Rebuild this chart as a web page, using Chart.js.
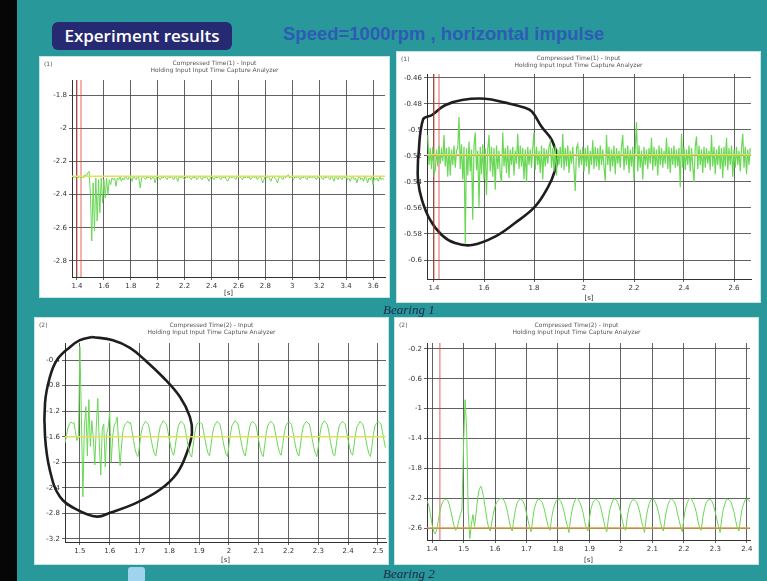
<!DOCTYPE html>
<html><head><meta charset="utf-8">
<script src="https://cdn.jsdelivr.net/npm/chart.js@4/dist/chart.umd.min.js"></script>
<style>
html,body{margin:0;padding:0;}
body{width:767px;height:581px;background:#28989b;position:relative;overflow:hidden;font-family:'DejaVu Sans',sans-serif;}
#strip{position:absolute;left:0;top:0;width:17px;height:581px;background:#060606;}
#hdr{position:absolute;left:52px;top:22px;width:180px;height:28px;background:#262a72;border-radius:6px;color:#fff;font:600 17px 'Open Sans',sans-serif;line-height:28px;text-align:center;}
#sub{position:absolute;left:283px;top:23px;color:#2d5cb4;font:bold 18.5px 'Liberation Sans',sans-serif;white-space:nowrap;}
#icon{position:absolute;left:128px;top:567px;width:17px;height:14px;background:#9fd3ee;border-radius:3px 3px 0 0;}
.panel{position:absolute;background:#fff;box-shadow:0 0 0 1px #c6e6e6;}
.panel canvas{position:absolute;left:0;top:0;}
.pt{position:absolute;left:0;right:0;text-align:center;font:6px 'DejaVu Sans',sans-serif;color:#555;white-space:nowrap;}
.pl{position:absolute;left:4px;top:3px;font:6px 'DejaVu Sans',sans-serif;color:#555;}
.brg{position:absolute;font:italic 13px 'Liberation Serif',serif;color:#1c2a48;}
</style></head>
<body>
<div id="strip"></div>
<div id="hdr">Experiment results</div>
<div id="sub">Speed=1000rpm , horizontal impulse</div>
<div id="icon"></div>

<div class="panel" style="left:40px;top:57px;width:349px;height:240px"><canvas id="c1" width="349" height="240"></canvas>
<div class="pl">(1)</div><div class="pt" style="top:2px">Compressed Time(1) - Input</div><div class="pt" style="top:9px">Holding  Input  Input  Time Capture  Analyzer</div></div>
<div class="panel" style="left:397px;top:52px;width:363px;height:250px"><canvas id="c2" width="363" height="250"></canvas>
<div class="pl">(1)</div><div class="pt" style="top:2px">Compressed Time(1) - Input</div><div class="pt" style="top:9px">Holding  Input  Input  Time Capture  Analyzer</div></div>
<div class="panel" style="left:35px;top:318px;width:353px;height:246px"><canvas id="c3" width="353" height="246"></canvas>
<div class="pl">(2)</div><div class="pt" style="top:3px">Compressed Time(2) - Input</div><div class="pt" style="top:10px">Holding  Input  Input  Time Capture  Analyzer</div></div>
<div class="panel" style="left:395px;top:318px;width:363px;height:246px"><canvas id="c4" width="363" height="246"></canvas>
<div class="pl">(2)</div><div class="pt" style="top:3px">Compressed Time(2) - Input</div><div class="pt" style="top:10px">Holding  Input  Input  Time Capture  Analyzer</div></div>

<div class="brg" style="left:383px;top:302px">Bearing 1</div>
<div class="brg" style="left:383px;top:566px">Bearing 2</div>

<script>
// ---------- Panel 1 (Bearing 1, channel 1) ----------
const p1Start = 1.37, p1Step = 0.01;
const p1Values = [
-2.30,-2.29,-2.30,-2.29,-2.30,-2.29,-2.30,-2.29,-2.30,-2.28,
-2.29,-2.27,-2.26,-2.40,-2.68,-2.33,-2.62,-2.30,-2.56,-2.31,
-2.51,-2.30,-2.45,-2.31,-2.42,-2.30,-2.40,-2.31,-2.34,-2.30,
-2.31,-2.30,-2.35,-2.30,-2.31,-2.29,-2.32,-2.30,-2.31,-2.29,
-2.30,-2.31,-2.29,-2.30,-2.32,-2.29,-2.30,-2.31,-2.29,-2.30,
-2.36,-2.30,-2.29,-2.30,-2.31,-2.29,-2.30,-2.29,-2.31,-2.30,
-2.29,-2.33,-2.30,-2.29,-2.30,-2.31,-2.29,-2.30,-2.29,-2.30,
-2.31,-2.29,-2.30,-2.29,-2.30,-2.31,-2.29,-2.30,-2.32,-2.29,
-2.30,-2.29,-2.30,-2.31,-2.29,-2.30,-2.29,-2.30,-2.31,-2.29,
-2.30,-2.29,-2.31,-2.30,-2.29,-2.30,-2.31,-2.29,-2.30,-2.29,
-2.30,-2.32,-2.30,-2.29,-2.30,-2.31,-2.29,-2.30,-2.29,-2.30,
-2.31,-2.29,-2.30,-2.29,-2.31,-2.32,-2.30,-2.29,-2.30,-2.29,
-2.30,-2.31,-2.29,-2.30,-2.29,-2.30,-2.31,-2.29,-2.30,-2.29,
-2.30,-2.29,-2.31,-2.30,-2.29,-2.30,-2.29,-2.31,-2.30,-2.29,
-2.30,-2.33,-2.31,-2.29,-2.30,-2.29,-2.30,-2.32,-2.30,-2.29,
-2.30,-2.31,-2.33,-2.30,-2.29,-2.30,-2.31,-2.29,-2.30,-2.29,
-2.28,-2.30,-2.29,-2.30,-2.31,-2.29,-2.30,-2.29,-2.30,-2.31,
-2.29,-2.30,-2.29,-2.30,-2.31,-2.29,-2.30,-2.29,-2.30,-2.29,
-2.30,-2.31,-2.29,-2.30,-2.29,-2.30,-2.31,-2.29,-2.30,-2.29,
-2.30,-2.31,-2.29,-2.30,-2.32,-2.29,-2.30,-2.31,-2.29,-2.30,
-2.31,-2.29,-2.30,-2.29,-2.31,-2.30,-2.32,-2.30,-2.29,-2.31,
-2.30,-2.33,-2.30,-2.29,-2.31,-2.30,-2.32,-2.29,-2.30,-2.33,
-2.30,-2.31,-2.29,-2.34,-2.30,-2.31,-2.30,-2.32,-2.29,-2.31,
-2.30,-2.31];
const p1XTicks = [1.4,1.6,1.8,2,2.2,2.4,2.6,2.8,3,3.2,3.4,3.6];
const p1XLabels = ['1.4','1.6','1.8','2','2.2','2.4','2.6','2.8','3','3.2','3.4','3.6'];
const p1YTicks = [-1.8,-2,-2.2,-2.4,-2.6,-2.8];
const p1YLabels = ['-1.8','-2','-2.2','-2.4','-2.6','-2.8'];
const p1Level = -2.29;
const p1Markers = [1.40,1.43];

// ---------- Panel 2 (Bearing 1, channel 2) ----------
const p2Start = 1.375, p2Step = 0.005;
const p2Values = [
-0.504,-0.527,-0.514,-0.530,-0.513,-0.534,-0.531,-0.515,-0.528,-0.512,-0.526,-0.516,-0.524,
-0.504,-0.528,-0.514,-0.536,-0.513,-0.535,-0.515,-0.527,-0.512,-0.529,-0.516,-0.514,
-0.490,-0.530,-0.511,-0.538,-0.513,-0.587,-0.514,-0.535,-0.509,-0.532,-0.515,-0.569,-0.512,
-0.502,-0.531,-0.516,-0.559,-0.513,-0.534,-0.511,-0.538,-0.514,-0.550,-0.515,
-0.504,-0.532,-0.513,-0.536,-0.514,-0.546,-0.512,-0.530,-0.516,-0.534,-0.540,
-0.502,-0.528,-0.514,-0.533,-0.512,-0.537,-0.515,-0.527,-0.513,-0.535,-0.516,-0.526,
-0.503,-0.530,-0.512,-0.528,-0.514,-0.538,-0.515,-0.540,-0.513,-0.527,-0.515,-0.529,-0.514,
-0.502,-0.531,-0.513,-0.527,-0.516,-0.533,-0.512,-0.538,-0.514,-0.528,-0.515,-0.526,-0.513,
-0.509,-0.529,-0.514,-0.532,-0.512,-0.535,-0.515,-0.527,-0.513,-0.529,
-0.503,-0.531,-0.514,-0.528,-0.512,-0.533,-0.516,-0.526,-0.513,-0.530,-0.547,-0.514,
-0.511,-0.529,-0.515,-0.527,-0.513,-0.532,-0.514,-0.528,-0.512,-0.534,-0.516,-0.527,
-0.508,-0.530,-0.513,-0.528,-0.514,-0.531,-0.512,-0.527,-0.515,-0.529,-0.539,
-0.504,-0.527,-0.513,-0.532,-0.515,-0.528,-0.512,-0.534,-0.514,-0.526,-0.516,-0.529,-0.513,
-0.504,-0.531,-0.514,-0.527,-0.512,-0.533,-0.515,-0.528,-0.513,-0.539,-0.514,
-0.494,-0.532,-0.512,-0.529,-0.516,-0.538,-0.513,-0.527,-0.515,-0.530,-0.514,-0.526,
-0.506,-0.531,-0.513,-0.528,-0.515,-0.535,-0.512,-0.527,-0.514,-0.529,-0.516,-0.526,
-0.506,-0.530,-0.513,-0.533,-0.514,-0.527,-0.512,-0.529,-0.515,-0.528,-0.514,-0.544,
-0.503,-0.529,-0.513,-0.531,-0.515,-0.527,-0.512,-0.532,-0.514,-0.528,-0.540,-0.513,
-0.505,-0.530,-0.512,-0.527,-0.515,-0.533,-0.513,-0.529,-0.514,-0.526,-0.516,-0.531,
-0.504,-0.528,-0.513,-0.534,-0.515,-0.527,-0.512,-0.530,-0.514,-0.537,-0.513,-0.528,
-0.506,-0.531,-0.514,-0.527,-0.512,-0.536,-0.515,-0.529,-0.513,-0.527,-0.516,-0.532,-0.514,
-0.503,-0.529,-0.513,-0.534,-0.515,-0.527,-0.514];
const p2XTicks = [1.4,1.6,1.8,2,2.2,2.4,2.6];
const p2XLabels = ['1.4','1.6','1.8','2','2.2','2.4','2.6'];
const p2YTicks = [-0.46,-0.48,-0.5,-0.52,-0.54,-0.56,-0.58,-0.6];
const p2YLabels = ['-0.46','-0.48','-0.5','-0.52','-0.54','-0.56','-0.58','-0.6'];
const p2Level = -0.519;
const p2Markers = [1.40,1.42];
const loop2X = [1.336,1.356,1.392,1.444,1.512,1.604,1.684,1.764,1.792,1.832,1.872,1.892,1.884,1.856,1.804,1.724,1.644,1.552,1.484,1.432,1.384,1.352,1.336,1.336];
const loop2Y = [-0.523,-0.492,-0.4885,-0.481,-0.477,-0.476,-0.479,-0.483,-0.486,-0.498,-0.508,-0.521,-0.531,-0.544,-0.559,-0.5715,-0.582,-0.5885,-0.587,-0.581,-0.569,-0.554,-0.5385,-0.523];

// ---------- Panel 3 (Bearing 2, channel 1) ----------
const p3Start = 1.45, p3Step = 0.005;
const p3Values = [
-1.70,-1.58,-1.46,-1.40,-1.37,-1.39,-1.38,-1.52,-1.66,-1.60,
-0.19,-1.30,-2.54,-1.45,-1.13,-1.90,-1.02,-1.75,-1.35,-1.62,
-2.04,-1.45,-1.00,-1.70,-2.20,-1.48,-1.40,-2.07,-1.55,-1.45,
-1.21,-2.00,-1.60,-1.42,-1.38,-1.29,-1.70,-2.05,-1.72,-1.50,
-1.42,-1.39,-1.36,-1.39,-1.38,-1.52,-1.66,-1.79,-1.88,-1.91,-1.74,-1.56,
-1.44,-1.40,-1.36,-1.38,-1.41,-1.53,-1.67,-1.78,-1.87,-1.90,-1.73,-1.55,
-1.43,-1.39,-1.35,-1.38,-1.40,-1.51,-1.64,-1.76,-1.85,-1.89,-1.75,-1.57,
-1.44,-1.38,-1.36,-1.39,-1.41,-1.53,-1.66,-1.78,-1.88,-1.92,-1.74,-1.56,
-1.43,-1.39,-1.37,-1.38,-1.40,-1.52,-1.65,-1.77,-1.86,-1.90,-1.73,-1.55,
-1.44,-1.40,-1.36,-1.38,-1.41,-1.52,-1.66,-1.78,-1.87,-1.91,-1.74,-1.56,
-1.43,-1.39,-1.35,-1.37,-1.40,-1.51,-1.65,-1.77,-1.86,-1.90,-1.75,-1.57,
-1.44,-1.38,-1.36,-1.39,-1.41,-1.53,-1.66,-1.78,-1.88,-1.91,-1.73,-1.55,
-1.43,-1.39,-1.36,-1.38,-1.40,-1.52,-1.64,-1.76,-1.85,-1.89,-1.74,-1.56,
-1.44,-1.40,-1.37,-1.38,-1.41,-1.53,-1.66,-1.78,-1.87,-1.90,-1.73,-1.55,
-1.43,-1.39,-1.36,-1.39,-1.40,-1.52,-1.65,-1.77,-1.86,-1.91,-1.75,-1.57,
-1.44,-1.38,-1.35,-1.38,-1.41,-1.51,-1.66,-1.78,-1.88,-1.90,-1.74,-1.56,
-1.43,-1.39,-1.36,-1.38,-1.40,-1.53,-1.65,-1.77,-1.86,-1.89,-1.73,-1.55,
-1.44,-1.40,-1.36,-1.39,-1.41,-1.52,-1.66,-1.78,-1.87,-1.91,-1.74,-1.56,
-1.43,-1.39,-1.36,-1.38,-1.40,-1.52,-1.65,-1.77];
const p3XTicks = [1.5,1.6,1.7,1.8,1.9,2,2.1,2.2,2.3,2.4,2.5];
const p3XLabels = ['1.5','1.6','1.7','1.8','1.9','2','2.1','2.2','2.3','2.4','2.5'];
const p3YTicks = [-0.4,-0.8,-1.2,-1.6,-2,-2.4,-2.8,-3.2];
const p3YLabels = ['-0.4','-0.8','-1.2','-1.6','-2','-2.4','-2.8','-3.2'];
const p3Level = -1.6;
const loop3X = [1.540,1.611,1.668,1.718,1.779,1.836,1.869,1.876,1.859,1.826,1.768,1.691,1.601,1.557,1.490,1.433,1.399,1.383,1.383,1.399,1.423,1.466,1.500,1.540];
const loop3Y = [-0.04,-0.09,-0.21,-0.40,-0.67,-0.98,-1.29,-1.54,-1.85,-2.17,-2.43,-2.63,-2.79,-2.85,-2.74,-2.54,-2.12,-1.60,-1.07,-0.67,-0.40,-0.20,-0.09,-0.04];

// ---------- Panel 4 (Bearing 2, channel 2) ----------
const p4Start = 1.385, p4Step = 0.005;
const p4Values = [
-2.24,-2.30,-2.42,-2.55,-2.64,-2.68,-2.62,-2.50,-2.38,-2.29,
-2.24,-2.22,-2.21,-2.23,-2.29,-2.38,-2.48,-2.57,-2.63,-2.60,
-2.50,-2.42,-2.36,-1.50,-0.88,-1.28,-2.40,-2.74,-2.55,-2.42,
-2.58,-2.40,-2.20,-2.08,-2.04,-2.10,-2.22,-2.36,-2.50,-2.60,
-2.64,-2.52,-2.40,-2.31,-2.26,-2.23,-2.21,-2.20,-2.21,-2.24,
-2.30,-2.39,-2.50,-2.60,
-2.64,-2.48,-2.35,-2.27,-2.23,-2.21,-2.22,-2.25,-2.31,-2.40,-2.50,-2.59,
-2.65,-2.47,-2.34,-2.27,-2.22,-2.21,-2.23,-2.26,-2.32,-2.41,-2.51,-2.60,
-2.63,-2.46,-2.35,-2.28,-2.23,-2.22,-2.22,-2.25,-2.31,-2.39,-2.49,-2.58,
-2.66,-2.48,-2.36,-2.27,-2.22,-2.20,-2.22,-2.26,-2.32,-2.40,-2.51,-2.60,
-2.64,-2.47,-2.34,-2.27,-2.23,-2.21,-2.23,-2.25,-2.31,-2.40,-2.50,-2.59,
-2.65,-2.48,-2.35,-2.28,-2.22,-2.21,-2.22,-2.26,-2.32,-2.41,-2.51,-2.60,
-2.63,-2.46,-2.34,-2.27,-2.23,-2.22,-2.23,-2.25,-2.31,-2.39,-2.50,-2.58,
-2.66,-2.47,-2.35,-2.27,-2.22,-2.21,-2.22,-2.26,-2.32,-2.40,-2.51,-2.60,
-2.64,-2.48,-2.36,-2.28,-2.23,-2.21,-2.23,-2.25,-2.31,-2.41,-2.50,-2.59,
-2.65,-2.47,-2.34,-2.27,-2.22,-2.20,-2.22,-2.26,-2.32,-2.40,-2.51,-2.60,
-2.63,-2.46,-2.35,-2.27,-2.23,-2.22,-2.22,-2.25,-2.31,-2.39,-2.49,-2.58,
-2.66,-2.48,-2.35,-2.28,-2.22,-2.21,-2.23,-2.26,-2.32,-2.40,-2.51,-2.60,
-2.64,-2.47,-2.34,-2.27,-2.22,-2.21,-2.22,-2.25];
const p4XTicks = [1.4,1.5,1.6,1.7,1.8,1.9,2,2.1,2.2,2.3,2.4];
const p4XLabels = ['1.4','1.5','1.6','1.7','1.8','1.9','2','2.1','2.2','2.3','2.4'];
const p4YTicks = [-0.2,-0.6,-1,-1.4,-1.8,-2.2,-2.6];
const p4YLabels = ['-0.2','-0.6','-1','-1.4','-1.8','-2.2','-2.6'];
const p4Level = -2.6;
const p4Markers = [1.425];

// ---------- drawing ----------
const GREEN = '#6ad756';
function series(start, step, vals){ return vals.map((v,i)=>({x: +(start + i*step).toFixed(4), y: v})); }
function loop(xs, ys){ return xs.map((x,i)=>({x:x, y:ys[i]})); }

function makeChart(id, o){
  const ds = [];
  if (o.level !== undefined) ds.push({data:[{x:o.xmin,y:o.level},{x:o.xmax,y:o.level}], borderColor:o.levelColor||'#e6de5a', borderWidth:1.5});
  ds.push({data: series(o.start,o.step,o.vals), borderColor:GREEN, borderWidth:o.lw||1});
  (o.markers||[]).forEach(m=>ds.push({data:[{x:m,y:o.ymin},{x:m,y:o.ymax}], borderColor:'rgba(220,60,50,0.8)', borderWidth:1}));
  if (o.loopX) ds.push({data: loop(o.loopX,o.loopY), borderColor:'#1e1e1e', borderWidth:2.6, tension:0.4, clip:false});
  ds.forEach(d=>{d.showLine=true; d.pointRadius=0; d.fill=false;});
  return new Chart(document.getElementById(id), {
    type:'scatter',
    data:{datasets:ds},
    options:{
      responsive:false, animation:false, devicePixelRatio:1,
      layout:{padding:{left:o.pad[0], top:o.pad[1], right:o.pad[2], bottom:0}},
      plugins:{legend:{display:false}, tooltip:{enabled:false}},
      scales:{
        x:{type:'linear', min:o.xmin, max:o.xmax,
           afterBuildTicks:s=>{s.ticks=o.xt.map(v=>({value:v}));},
           afterFit:s=>{s.height=o.xh;},
           ticks:{autoSkip:false, maxRotation:0, padding:2, color:'#333', font:{size:7,family:'DejaVu Sans'}, callback:(v,i)=>o.xl[i]},
           grid:{color:'rgba(70,70,70,0.85)', lineWidth:1, tickLength:3},
           border:{color:'#333', width:1},
           title:{display:true, text:'[s]', color:'#333', font:{size:7,family:'DejaVu Sans'}, padding:0}},
        y:{type:'linear', min:o.ymin, max:o.ymax,
           afterBuildTicks:s=>{s.ticks=o.yt.map(v=>({value:v}));},
           afterFit:s=>{s.width=o.yw;},
           ticks:{autoSkip:false, padding:2, color:'#333', font:{size:7,family:'DejaVu Sans'}, callback:(v,i)=>o.yl[i]},
           grid:{color:'rgba(70,70,70,0.85)', lineWidth:1, tickLength:3},
           border:{color:'#333', width:1}}
      }
    }
  });
}

makeChart('c1',{start:p1Start,step:p1Step,vals:p1Values,xt:p1XTicks,xl:p1XLabels,yt:p1YTicks,yl:p1YLabels,
  xmin:1.363,xmax:3.689,ymin:-2.897,ymax:-1.709,level:p1Level,markers:p1Markers,pad:[4,23,4],yw:28,xh:20});
makeChart('c2',{start:p2Start,step:p2Step,vals:p2Values,xt:p2XTicks,xl:p2XLabels,yt:p2YTicks,yl:p2YLabels,lw:1.2,
  xmin:1.372,xmax:2.668,ymin:-0.6146,ymax:-0.457,level:p2Level,markers:p2Markers,loopX:loop2X,loopY:loop2Y,pad:[4,22,9],yw:26,xh:23});
makeChart('c3',{start:p3Start,step:p3Step,vals:p3Values,xt:p3XTicks,xl:p3XLabels,yt:p3YTicks,yl:p3YLabels,
  xmin:1.45,xmax:2.527,ymin:-3.247,ymax:-0.134,level:p3Level,loopX:loop3X,loopY:loop3Y,pad:[4,25,2],yw:26,xh:22});
makeChart('c4',{start:p4Start,step:p4Step,vals:p4Values,xt:p4XTicks,xl:p4XLabels,yt:p4YTicks,yl:p4YLabels,
  xmin:1.384,xmax:2.41,ymin:-2.76,ymax:-0.12,level:p4Level,levelColor:'#d9a040',markers:p4Markers,pad:[4,25,8],yw:28,xh:24});
</script>
</body></html>
